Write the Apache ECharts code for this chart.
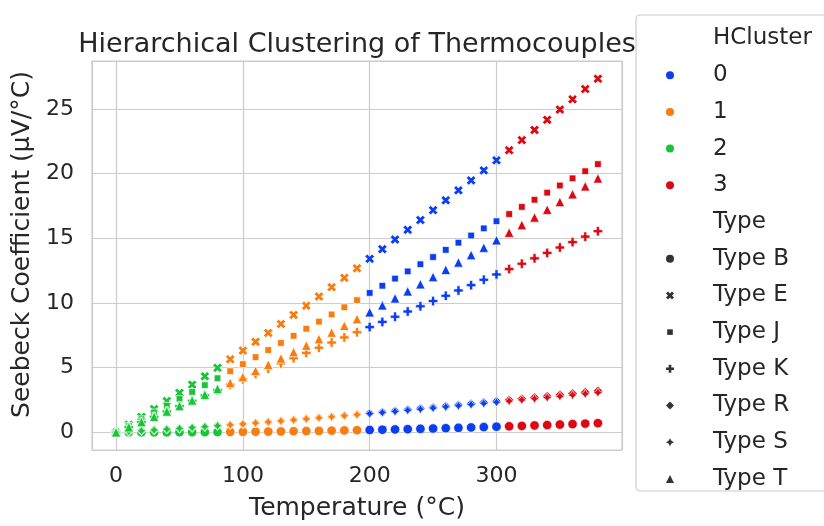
<!DOCTYPE html>
<html>
<head>
<meta charset="utf-8">
<script src="https://cdn.jsdelivr.net/npm/echarts@6/dist/echarts.min.js"></script>
<style>
  html, body { margin: 0; padding: 0; background: #fff; }
  #chart { width: 824px; height: 526px; }
</style>
</head>
<body>
<div id="chart"></div>
<script>
// temperature points (°C)
const temps = [0, 10, 20, 30, 40, 50, 60, 70, 80, 90, 100, 110, 120, 130, 140, 150, 160, 170, 180, 190,
  200, 210, 220, 230, 240, 250, 260, 270, 280, 290, 300, 310, 320, 330, 340, 350, 360, 370, 380]
// hierarchical cluster of each temperature row
const clusters = [2, 2, 2, 2, 2, 2, 2, 2, 2, 1, 1, 1, 1, 1, 1, 1, 1, 1, 1, 1,
  0, 0, 0, 0, 0, 0, 0, 0, 0, 0, 0, 3, 3, 3, 3, 3, 3, 3, 3]

const typeB = [0, -0.002, -0.003, -0.002, 0, 0.002, 0.006, 0.011, 0.017, 0.025, 0.033, 0.043, 0.053, 0.065, 0.078, 0.092, 0.107, 0.123, 0.141, 0.159,
  0.178, 0.199, 0.22, 0.243, 0.267, 0.291, 0.317, 0.344, 0.372, 0.401, 0.431, 0.462, 0.494, 0.527, 0.561, 0.596, 0.632, 0.669, 0.707]
const typeE = [0, 0.591, 1.192, 1.801, 2.42, 3.048, 3.685, 4.33, 4.985, 5.648, 6.319, 6.998, 7.685, 8.379, 9.081, 9.789, 10.503, 11.224, 11.951, 12.684,
  13.421, 14.164, 14.912, 15.664, 16.42, 17.181, 17.945, 18.713, 19.484, 20.259, 21.036, 21.817, 22.6, 23.386, 24.174, 24.964, 25.757, 26.552, 27.348]
const typeJ = [0, 0.507, 1.019, 1.537, 2.059, 2.585, 3.116, 3.65, 4.187, 4.726, 5.269, 5.814, 6.36, 6.909, 7.459, 8.01, 8.562, 9.115, 9.669, 10.224,
  10.779, 11.334, 11.889, 12.445, 13.0, 13.555, 14.11, 14.665, 15.219, 15.773, 16.327, 16.881, 17.434, 17.986, 18.538, 19.09, 19.642, 20.194, 20.745]
const typeK = [0, 0.397, 0.798, 1.203, 1.612, 2.023, 2.436, 2.851, 3.267, 3.682, 4.096, 4.509, 4.92, 5.328, 5.735, 6.138, 6.54, 6.941, 7.34, 7.739,
  8.138, 8.539, 8.94, 9.343, 9.747, 10.153, 10.561, 10.971, 11.382, 11.795, 12.209, 12.624, 13.04, 13.457, 13.874, 14.293, 14.713, 15.133, 15.554]
const typeR = [0, 0.054, 0.111, 0.171, 0.232, 0.296, 0.363, 0.431, 0.501, 0.573, 0.647, 0.723, 0.8, 0.879, 0.959, 1.041, 1.124, 1.208, 1.294, 1.381,
  1.469, 1.558, 1.648, 1.739, 1.831, 1.923, 2.017, 2.112, 2.207, 2.304, 2.401, 2.498, 2.597, 2.696, 2.796, 2.896, 2.997, 3.099, 3.201]
const typeS = [0, 0.055, 0.113, 0.173, 0.235, 0.299, 0.365, 0.433, 0.502, 0.573, 0.646, 0.72, 0.795, 0.872, 0.95, 1.029, 1.11, 1.191, 1.273, 1.357,
  1.441, 1.526, 1.612, 1.698, 1.786, 1.874, 1.962, 2.052, 2.141, 2.232, 2.323, 2.415, 2.507, 2.599, 2.692, 2.786, 2.88, 2.974, 3.069]
const typeT = [0, 0.391, 0.79, 1.196, 1.612, 2.036, 2.468, 2.909, 3.358, 3.814, 4.279, 4.75, 5.228, 5.714, 6.206, 6.704, 7.209, 7.72, 8.237, 8.759,
  9.288, 9.822, 10.362, 10.907, 11.458, 12.013, 12.574, 13.139, 13.709, 14.283, 14.862, 15.445, 16.032, 16.624, 17.219, 17.819, 18.422, 19.03, 19.641]

const clusterNames = ['0', '1', '2', '3']
const clusterColors = ['#0a3ef0', '#f77d12', '#1cc338', '#dc0912']

// marker shapes, seaborn style order
const shapes = {
  circle: 'circle',
  x: 'path://M5,-10L10,-5L5,0L10,5L5,10L0,5L-5,10L-10,5L-5,0L-10,-5L-5,-10L0,-5Z',
  square: 'path://M-10,-10M10,10M-7,-7L7,-7L7,7L-7,7Z',
  plus: 'path://M-3.3,-10L3.3,-10L3.3,-3.3L10,-3.3L10,3.3L3.3,3.3L3.3,10L-3.3,10L-3.3,3.3L-10,3.3L-10,-3.3L-3.3,-3.3Z',
  diamond: 'path://M0,-10L10,0L0,10L-10,0Z',
  star: 'path://M0,-10L3.5,-3.5L10,0L3.5,3.5L0,10L-3.5,3.5L-10,0L-3.5,-3.5Z',
  triangle: 'path://M0,-10L10,10L-10,10Z'
}

const types = [
  { name: 'Type B', values: typeB, symbol: shapes.circle },
  { name: 'Type E', values: typeE, symbol: shapes.x },
  { name: 'Type J', values: typeJ, symbol: shapes.square },
  { name: 'Type K', values: typeK, symbol: shapes.plus },
  { name: 'Type R', values: typeR, symbol: shapes.diamond },
  { name: 'Type S', values: typeS, symbol: shapes.star },
  { name: 'Type T', values: typeT, symbol: shapes.triangle }
]

const font = 'DejaVu Sans'
const textColor = '#262626'

const series = []
// empty series only feed the legend
series.push({ name: 'HCluster', type: 'scatter', data: [] })
clusterNames.forEach((c, i) => {
  series.push({ name: c, type: 'scatter', symbol: 'circle', itemStyle: { color: clusterColors[i], opacity: 1 }, data: [] })
})
series.push({ name: 'Type', type: 'scatter', data: [] })
types.forEach(t => {
  series.push({
    name: t.name,
    type: 'scatter',
    symbol: t.symbol,
    symbolSize: 9.5,
    itemStyle: { color: '#333333', borderColor: '#ffffff', borderWidth: 0.7, opacity: 1 },
    data: temps.map((x, i) => ({
      value: [x, t.values[i]],
      itemStyle: { color: clusterColors[clusters[i]] }
    }))
  })
})

const legendData = [{ name: 'HCluster', icon: 'none' }]
clusterNames.forEach(c => legendData.push({ name: c, icon: 'circle' }))
legendData.push({ name: 'Type', icon: 'none' })
types.forEach(t => legendData.push({ name: t.name, icon: t.symbol, itemStyle: { color: '#333333' } }))

const chart = echarts.init(document.getElementById('chart'))
chart.setOption({
  animation: false,
  textStyle: { fontFamily: font },
  title: {
    text: 'Hierarchical Clustering of Thermocouples',
    left: 352,
    top: 26,
    textAlign: 'center',
    textStyle: { fontFamily: font, fontSize: 27, fontWeight: 'normal', color: textColor }
  },
  grid: {
    left: 92, right: 202, top: 61, bottom: 71,
    show: true, borderColor: '#cccccc', borderWidth: 1.2
  },
  xAxis: {
    type: 'value',
    min: -19,
    max: 399,
    name: 'Temperature (°C)',
    nameLocation: 'middle',
    nameGap: 46,
    nameTextStyle: { fontFamily: font, fontSize: 25, color: textColor },
    axisLine: { show: false },
    axisTick: { show: false },
    axisLabel: {
      fontFamily: font, fontSize: 22, color: textColor, margin: 15,
      formatter: v => (v % 100 === 0 ? String(v) : '')
    },
    splitLine: { lineStyle: { color: '#cccccc', width: 1.2 } }
  },
  yAxis: {
    type: 'value',
    min: -1.37,
    max: 28.72,
    name: 'Seebeck Coefficient (µV/°C)',
    nameLocation: 'middle',
    nameGap: 56,
    nameTextStyle: { fontFamily: font, fontSize: 25, color: textColor, padding: [0, 0, 0, 22] },
    axisLine: { show: false },
    axisTick: { show: false },
    axisLabel: {
      fontFamily: font, fontSize: 22, color: textColor, margin: 18,
      formatter: v => (Math.abs(v % 5) < 1e-9 ? String(v) : '')
    },
    splitLine: { lineStyle: { color: '#cccccc', width: 1.2 } }
  },
  legend: {
    orient: 'vertical',
    left: 632,
    top: 27,
    padding: 0,
    itemWidth: 76,
    itemHeight: 8,
    itemGap: 13.7,
    selectedMode: false,
    itemStyle: { borderWidth: 0, opacity: 1 },
    textStyle: { fontFamily: font, fontSize: 23, color: textColor },
    data: legendData
  },
  graphic: [{
    type: 'rect',
    z: 0,
    shape: { x: 636, y: 15, width: 260, height: 476, r: 4 },
    style: { fill: 'rgba(255,255,255,0.8)', stroke: '#cccccc', lineWidth: 1.2 }
  }],
  series: series
})
</script>
</body>
</html>
